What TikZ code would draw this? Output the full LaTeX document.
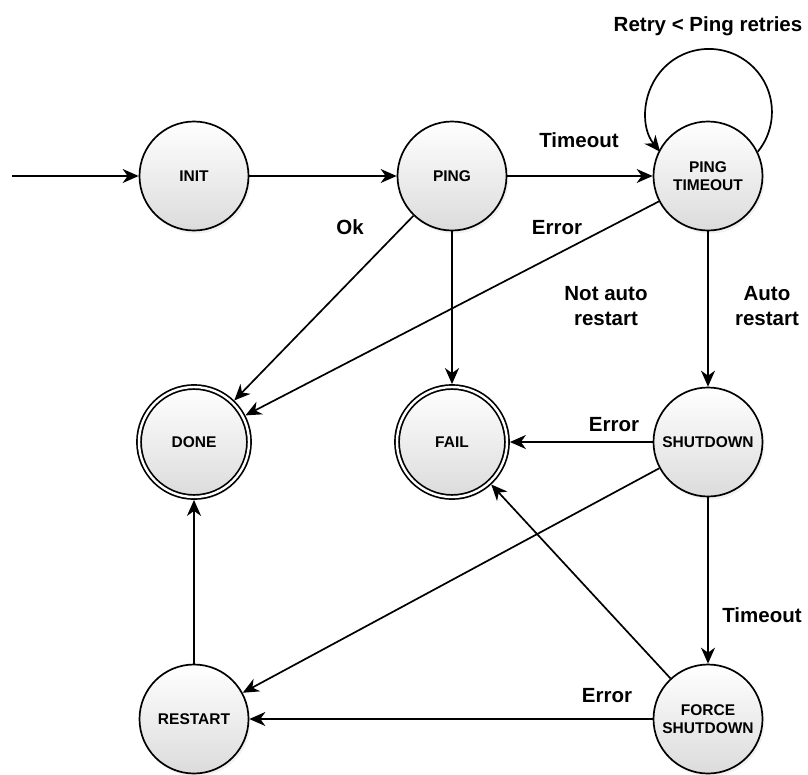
\documentclass[tikz,border=0pt]{standalone}
\usepackage{fontspec}
\setmainfont{Liberation Sans}
\usetikzlibrary{arrows.meta,shadows}
\begin{document}
\begin{tikzpicture}[x=1pt,y=-1pt,
  state/.style={circle, draw=black, line width=1.7pt, minimum size=109pt, inner sep=0pt,
    top color=white, bottom color=black!14,
    drop shadow={opacity=0.10,shadow xshift=2pt,shadow yshift=-3pt},
    font=\fontsize{15.5}{18}\selectfont\bfseries, align=center},
  final/.style={state, double, double distance=2.4pt, minimum size=110pt, outer sep=2.9pt},
  lbl/.style={font=\fontsize{20.5}{25.5}\selectfont\bfseries, align=center, inner sep=0pt},
  arr/.style={line width=1.7pt, -{Stealth[length=16pt,width=14pt,inset=5pt]}}
]
\useasboundingbox[fill=white] (0,0) rectangle (808,774);

\node[state] (init) at (194,176) {INIT};
\node[state] (ping) at (452,176) {PING};
\node[state] (pt) at (708,176) {PING\\TIMEOUT};
\node[final] (done) at (194,442) {DONE};
\node[final] (fail) at (452,442) {FAIL};
\node[state] (sd) at (708,442) {SHUTDOWN};
\node[state] (restart) at (194,719) {RESTART};
\node[state] (fs) at (708,719) {FORCE\\SHUTDOWN};

\coordinate (start) at (12,176);

\draw[arr] (start) -- (init);
\draw[arr] (init) -- (ping);
\draw[arr] (ping) -- (pt);
\draw[arr] (ping) -- (done);
\draw[arr] (ping) -- (fail);
\draw[arr] (pt) -- (done);
\draw[arr] (pt.26.4) arc[start angle=39.2, end angle=-219.2, radius=63];
\draw[arr] (pt) -- (sd);
\draw[arr] (sd) -- (fail);
\draw[arr] (sd) -- (restart);
\draw[arr] (sd) -- (fs);
\draw[arr] (fs) -- (fail);
\draw[arr] (fs) -- (restart);
\draw[arr] (restart) -- (done);

\node[lbl, anchor=base] (lretry) at (708,31) {Retry < Ping retries};
\node[lbl, anchor=base] (ltimeout1) at (579,147) {Timeout};
\node[lbl, anchor=base] (lok) at (350,234) {Ok};
\node[lbl, anchor=base] (lerror1) at (557,234) {Error};
\node[lbl] (lnotauto) at (606,306) {Not auto\\restart};
\node[lbl] (lauto) at (767,306) {Auto\\restart};
\node[lbl, anchor=base] (lerror2) at (614,431) {Error};
\node[lbl, anchor=base] (ltimeout2) at (762,622) {Timeout};
\node[lbl, anchor=base] (lerror3) at (607,702) {Error};
\end{tikzpicture}
\end{document}
